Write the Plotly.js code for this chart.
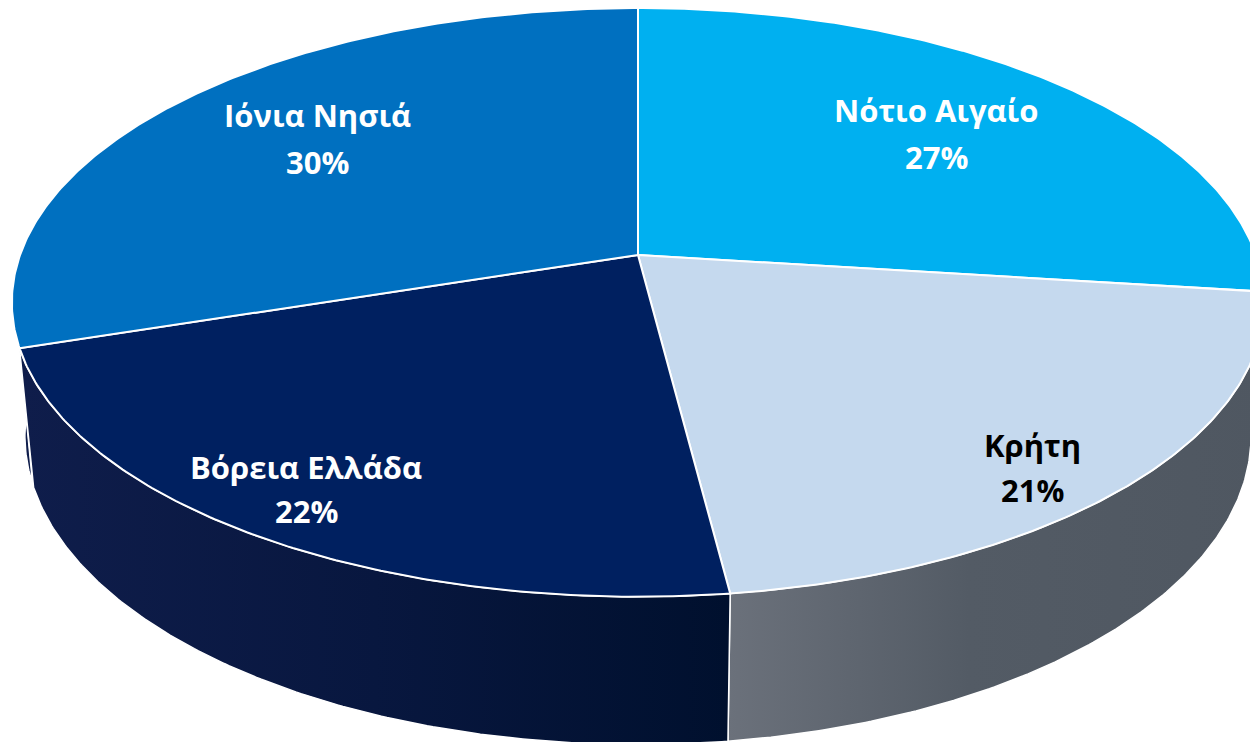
<!DOCTYPE html>
<html>
<head>
<meta charset="utf-8">
<script src="https://cdn.plot.ly/plotly-3.0.1.min.js"></script>
<style>html,body{margin:0;padding:0;background:#fff;}#chart{width:1250px;height:742px;}</style>
</head>
<body>
<div id="chart"></div>
<script>
// ---- data ----
const regions = ['Νότιο Αιγαίο', 'Κρήτη', 'Βόρεια Ελλάδα', 'Ιόνια Νησιά'];
const shares = [27, 21, 22, 30];
const pctLabels = ['27%', '21%', '22%', '30%'];

// ---- styles ----
const topColors = ['#00B0F0', '#C5D9EE', '#002060', '#0070C0'];
const sideScales = [
  [[0, '#0099d6'], [1, '#0088c0']],
  [[0, '#6b717b'], [0.45, '#535b65'], [1, '#4f5761']],
  [[0, '#0f1d4b'], [0.5, '#08173f'], [1, '#00102e']],
  [[0, '#0f1d4b'], [1, '#0f1d4b']]
];
const labelColors = ['#ffffff', '#000000', '#ffffff', '#ffffff'];

// ---- 3D perspective projection of a tilted disk (layout geometry) ----
const CX = 638, CY = 255;           // apex on screen
const F = 3400, D = 5.502;
const sinE = 0.464, cosE = Math.sqrt(1 - sinE * sinE);
const THICK = 0.245;

function proj(thetaDeg, r, z) {
  const th = thetaDeg * Math.PI / 180;
  const X = r * Math.sin(th), Y = r * Math.cos(th);
  const depth = D + Y * cosE - z * sinE;
  const sx = F * X / depth;
  const syUp = F * (Y * sinE + z * cosE) / depth;
  return [CX + sx, CY - syUp];
}

const total = shares.reduce((a, b) => a + b, 0);
const bounds = [];
let acc = 0;
shares.forEach(v => { const a1 = acc / total * 360; acc += v; bounds.push([a1, acc / total * 360]); });

function arc(a1, a2, z) {
  const pts = [];
  const n = Math.max(2, Math.ceil(Math.abs(a2 - a1) / 0.5));
  for (let i = 0; i <= n; i++) pts.push(proj(a1 + (a2 - a1) * i / n, 1, z));
  return pts;
}

const traces = [];
// side walls (drawn first, tops cover the hidden back parts)
const sideOrder = [0, 3, 1, 2];
sideOrder.forEach(i => {
  const [a1, a2] = bounds[i];
  const pts = arc(a1, a2, 0).concat(arc(a2, a1, -THICK));
  pts.push(pts[0]);
  traces.push({
    type: 'scatter', mode: 'lines', hoverinfo: 'skip', showlegend: false,
    x: pts.map(p => p[0]), y: pts.map(p => p[1]),
    fill: 'toself',
    fillgradient: { type: 'horizontal', colorscale: sideScales[i] },
    line: { color: '#ffffff', width: 1.5 }
  });
});
// top faces
bounds.forEach(([a1, a2], i) => {
  const apex = proj(0, 0, 0);
  const pts = [apex].concat(arc(a1, a2, 0));
  pts.push(apex);
  traces.push({
    type: 'scatter', mode: 'lines', hoverinfo: 'skip', showlegend: false,
    x: pts.map(p => p[0]), y: pts.map(p => p[1]),
    fill: 'toself', fillcolor: topColors[i],
    line: { color: '#ffffff', width: 2 }
  });
});

// label placement (screen positions of name / percentage lines)
const labelPos = [[936, 110, 157], [1032, 445, 490], [306, 467, 511], [317, 115, 162]];
const annotations = [];
regions.forEach((name, i) => {
  const [lx, ly1, ly2] = labelPos[i];
  const font = { family: 'Open Sans, Noto Sans, sans-serif', size: 31, color: labelColors[i], weight: 700 };
  annotations.push({ x: lx, y: ly1, xref: 'x', yref: 'y', text: '<b>' + name + '</b>', showarrow: false, font, xanchor: 'center', yanchor: 'middle' });
  annotations.push({ x: lx, y: ly2, xref: 'x', yref: 'y', text: '<b>' + pctLabels[i] + '</b>', showarrow: false, font, xanchor: 'center', yanchor: 'middle' });
});

const layout = {
  width: 1250, height: 742,
  margin: { l: 0, r: 0, t: 0, b: 0 },
  paper_bgcolor: '#ffffff', plot_bgcolor: '#ffffff',
  xaxis: { range: [0, 1250], visible: false, fixedrange: true },
  yaxis: { range: [742, 0], visible: false, fixedrange: true },
  annotations,
  showlegend: false
};

Plotly.newPlot('chart', traces, layout, { staticPlot: true, displayModeBar: false });
</script>
</body>
</html>
